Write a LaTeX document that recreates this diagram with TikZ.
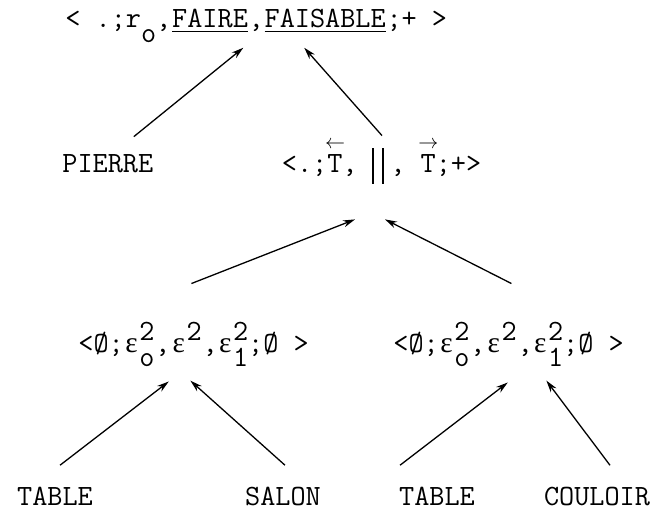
\documentclass[tikz,border=0pt]{standalone}
\usepackage{fontspec}
\newfontfamily\grk{Liberation Serif}
\usetikzlibrary{arrows.meta,calc,positioning}

\newcommand{\hi}[1]{\raisebox{0.4em}{#1}}
\newcommand{\lo}[1]{\raisebox{-0.5em}{#1}}
\newcommand{\hilo}[2]{\rlap{\hi{#1}}\lo{#2}}
\newcommand{\eps}{\makebox[0.525em]{\grk ε}}
\newcommand{\vide}{Ø}
\newcommand{\arrT}[1]{\rlap{\raisebox{0.8em}{\makebox[0.525em]{\normalsize$#1$}}}T}

\tikzset{
  lbl/.style={inner sep=0pt, font=\ttfamily\fontsize{14.7}{17}\selectfont},
  part/.style={lbl, anchor=base west},
  follow/.style={part, right=0pt of #1, anchor=base west},
  tip/.style={-{Stealth[length=6pt,width=3.5pt]}, line width=0.65pt},
}

\begin{document}
\begin{tikzpicture}[x=0.5pt,y=-0.5pt]
  \useasboundingbox (0,0) rectangle (651,513);
  % racine
  \node[part] (t1) at (65,28) {< .;r\lo{o},};
  \node[follow=t1.base east] (faire) {\underline{FAIRE}};
  \node[follow=faire.base east] (t2) {,};
  \node[follow=t2.base east] (faisable) {\underline{FAISABLE}};
  \node[follow=faisable.base east] (t3) {;+ >};
  % niveau 1
  \node[part] (pierre) at (62,172) {PIERRE};
  \node[lbl] (bars) at (378,166) {\rule{0.7pt}{18pt}\hspace{4.3pt}\rule{0.7pt}{18pt}};
  \node[part, anchor=base east] (midL) at (358,172) {<.;\arrT{\leftarrow},};
  \node[part] (midR) at (390,172) {, \arrT{\rightarrow};+>};
  % niveau 2
  \node[part] (eL1) at (78,352) {<\vide;\eps\hilo{2}{o}};
  \node[follow=eL1.base east] (eL2) {,};
  \node[follow=eL2.base east] (eL3) {\eps\hi{2}};
  \node[follow=eL3.base east] (eL4) {,\eps\hilo{2}{1};\vide{} >};
  \node[part] (eR1) at (393,352) {<\vide;\eps\hilo{2}{o}};
  \node[follow=eR1.base east] (eR2) {,};
  \node[follow=eR2.base east] (eR3) {\eps\hi{2}};
  \node[follow=eR3.base east] (eR4) {,\eps\hilo{2}{1};\vide{} >};
  % feuilles
  \node[lbl, anchor=base] (tab1) at (55,505) {TABLE};
  \node[lbl, anchor=base] (salon) at (283,505) {SALON};
  \node[lbl, anchor=base] (tab2) at (437,505) {TABLE};
  \node[lbl, anchor=base] (couloir) at (597,505) {COULOIR};
  % arcs
  \draw[tip] ($(pierre.north)+(26,-17)$) -- ($(faire.south east)+(-5,15)$);
  \draw[tip] ($(bars.north)+(4,-12)$) -- ($(faisable.south west)+(40,15)$);
  \draw[tip] ($(eL3.north)+(5,-38)$) -- ($(bars.south)+(-23,35)$);
  \draw[tip] ($(eR3.north)+(10,-38)$) -- ($(bars.south)+(7,35)$);
  \draw[tip] ($(tab1.north)+(5,-21)$) -- ($(eL2.south)+(6,25)$);
  \draw[tip] ($(salon.north)+(2,-21)$) -- ($(eL3.south)+(4,28)$);
  \draw[tip] ($(tab2.north)+(-37,-21)$) -- ($(eR2.south)+(30,26)$);
  \draw[tip] ($(couloir.north)+(13,-21)$) -- ($(eR3.south)+(45,28)$);
\end{tikzpicture}
\end{document}
